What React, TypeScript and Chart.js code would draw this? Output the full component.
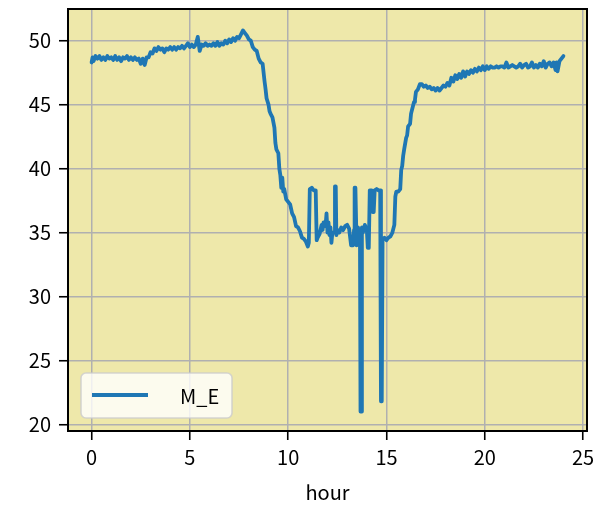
import React, { useEffect, useRef } from 'react';
import { Chart, registerables } from 'chart.js';

Chart.register(...registerables);

const seriesLabel = 'M_E';
const xTitle = 'hour';
const xTicks = [0, 5, 10, 15, 20, 25];
const yTicks = [20, 25, 30, 35, 40, 45, 50];

const hours = [
  0.0, 0.05, 0.1, 0.2, 0.3, 0.4, 0.5, 0.6, 0.7, 0.8, 0.9, 1.0, 1.1, 1.2, 1.3, 1.4, 1.5, 1.6, 1.7, 1.8, 1.9,
  2.0, 2.1, 2.2, 2.3, 2.4, 2.5, 2.6, 2.7, 2.8, 2.9, 3.0, 3.1, 3.2, 3.3, 3.4, 3.5, 3.6, 3.7, 3.8, 3.9,
  4.0, 4.1, 4.2, 4.3, 4.4, 4.5, 4.6, 4.7, 4.8, 4.9, 5.0, 5.1, 5.2, 5.3, 5.4, 5.5, 5.6, 5.7, 5.8, 5.9,
  6.0, 6.1, 6.2, 6.3, 6.4, 6.5, 6.6, 6.7, 6.8, 6.9, 7.0, 7.1, 7.2, 7.3, 7.4, 7.5, 7.6, 7.7, 7.8, 7.9,
  8.0, 8.1, 8.2, 8.3, 8.4, 8.5, 8.6, 8.7, 8.8, 8.85, 8.9, 9.0, 9.05, 9.1, 9.2, 9.3, 9.35, 9.4, 9.5, 9.55,
  9.6, 9.65, 9.7, 9.75, 9.8, 9.9, 10.0, 10.1, 10.2, 10.3, 10.4, 10.5, 10.6, 10.7, 10.8, 10.9, 11.0, 11.05,
  11.1, 11.2, 11.3, 11.4, 11.45, 11.5, 11.6, 11.7, 11.75, 11.8, 11.9, 11.95, 12.0, 12.05, 12.1, 12.15, 12.2, 12.25,
  12.35, 12.38, 12.42, 12.45, 12.5, 12.6, 12.7, 12.8, 12.9, 13.0, 13.1, 13.2, 13.3, 13.35, 13.38, 13.42, 13.48,
  13.55, 13.6, 13.65, 13.68, 13.72, 13.75, 13.8, 13.9, 14.0, 14.05, 14.1, 14.15, 14.25, 14.3, 14.35, 14.4, 14.5,
  14.6, 14.68, 14.72, 14.76, 14.8, 14.9, 15.0, 15.1, 15.2, 15.3, 15.4, 15.45, 15.5, 15.6, 15.7, 15.75, 15.8,
  15.85, 15.9, 16.0, 16.05, 16.1, 16.2, 16.25, 16.3, 16.4, 16.45, 16.5, 16.6, 16.7, 16.8, 16.9, 17.0, 17.1,
  17.2, 17.3, 17.4, 17.5, 17.6, 17.7, 17.8, 17.9, 18.0, 18.1, 18.2, 18.3, 18.4, 18.5, 18.6, 18.7, 18.8, 18.9,
  19.0, 19.1, 19.2, 19.3, 19.4, 19.5, 19.6, 19.7, 19.8, 19.9, 20.0, 20.1, 20.2, 20.3, 20.4, 20.5, 20.6, 20.7,
  20.8, 20.9, 21.0, 21.1, 21.2, 21.3, 21.4, 21.5, 21.6, 21.7, 21.8, 21.9, 22.0, 22.1, 22.2, 22.3, 22.4, 22.5,
  22.6, 22.7, 22.8, 22.9, 23.0, 23.1, 23.2, 23.3, 23.4, 23.5, 23.6, 23.65, 23.7, 23.8, 23.9, 24.0,
];

const values = [
  48.3, 48.7, 48.4, 48.8, 48.6, 48.8, 48.5, 48.7, 48.5, 48.8, 48.6, 48.7, 48.5, 48.8, 48.5, 48.7, 48.4, 48.7, 48.6, 48.8, 48.5,
  48.7, 48.5, 48.7, 48.5, 48.6, 48.2, 48.6, 48.1, 48.7, 48.7, 49.1, 49.0, 49.4, 49.2, 49.5, 49.3, 49.4, 49.1, 49.4, 49.3,
  49.5, 49.3, 49.5, 49.3, 49.5, 49.4, 49.6, 49.4, 49.6, 49.8, 49.5, 49.7, 49.5, 49.7, 50.3, 49.2, 49.7, 49.6, 49.8, 49.6,
  49.7, 49.6, 49.8, 49.6, 49.9, 49.6, 49.8, 49.7, 50.0, 49.8, 50.1, 49.9, 50.2, 50.0, 50.3, 50.2, 50.5, 50.8, 50.6, 50.4,
  50.1, 50.0, 49.5, 49.3, 49.2, 48.6, 48.3, 48.2, 46.8, 46.2, 45.5, 45.0, 44.5, 44.3, 44.0, 43.2, 42.0, 41.5, 41.2, 40.0,
  39.5, 38.5, 39.3, 38.2, 38.4, 37.6, 37.4, 37.2, 36.5, 36.2, 35.5, 35.4, 35.1, 34.6, 34.5, 34.3, 33.9, 34.2,
  38.4, 38.5, 38.3, 38.3, 34.4, 34.6, 34.9, 35.6, 35.2, 35.8, 35.5, 36.5, 35.0, 35.8, 34.8, 35.4, 34.2, 35.0,
  35.0, 38.6, 38.6, 34.8, 35.2, 35.0, 35.4, 35.2, 35.5, 35.6, 35.3, 34.0, 34.0, 35.2, 38.5, 38.5, 34.0,
  35.4, 35.0, 35.2, 21.0, 21.0, 35.4, 35.0, 35.6, 35.2, 33.8, 33.8, 38.3, 38.3, 36.6, 36.6, 38.3, 38.4,
  38.3, 38.3, 21.8, 21.8, 34.4, 34.6, 34.4, 34.6, 34.7, 35.0, 35.6, 37.8, 38.2, 38.2, 38.4, 39.9, 40.2,
  41.0, 41.5, 42.4, 42.6, 43.3, 43.5, 44.3, 44.6, 45.2, 45.4, 46.0, 46.2, 46.6, 46.6, 46.4, 46.5, 46.3,
  46.4, 46.2, 46.3, 46.1, 46.3, 46.1, 46.3, 46.5, 46.4, 46.7, 46.5, 47.1, 46.8, 47.3, 47.0, 47.4, 47.1, 47.6,
  47.2, 47.6, 47.4, 47.7, 47.5, 47.8, 47.6, 47.9, 47.7, 48.0, 47.7, 48.0, 47.8, 48.0, 47.9, 47.9, 48.0, 47.9,
  48.0, 48.0, 47.9, 48.3, 47.9, 48.0, 48.1, 48.0, 47.9, 48.0, 48.2, 47.9, 48.1, 48.2, 47.9, 48.0, 48.3, 47.9,
  48.1, 47.9, 48.2, 48.0, 48.4, 47.9, 48.2, 48.3, 48.0, 48.3, 47.7, 48.3, 47.6, 48.4, 48.6, 48.8,
];

const FONT = '"Noto Sans CJK JP", "Noto Sans", "DejaVu Sans", sans-serif';

const decorPlugin = {
  id: 'decor',
  beforeDraw(chart: any) {
    const { ctx, chartArea: a } = chart;
    ctx.save();
    ctx.fillStyle = '#EEE8AA';
    ctx.fillRect(a.left, a.top, a.right - a.left, a.bottom - a.top);
    ctx.restore();
  },
  afterDraw(chart: any) {
    const { ctx, chartArea: a } = chart;
    ctx.save();
    ctx.strokeStyle = '#000';
    ctx.lineWidth = 2;
    ctx.strokeRect(a.left, a.top, a.right - a.left, a.bottom - a.top);
    const lx = a.left + 13;
    const ly = a.bottom - 58;
    const lw = 151;
    const lh = 45;
    ctx.beginPath();
    ctx.roundRect(lx, ly, lw, lh, 5);
    ctx.fillStyle = 'rgba(255,255,255,0.8)';
    ctx.fill();
    ctx.strokeStyle = 'rgba(204,204,204,0.8)';
    ctx.lineWidth = 1.6;
    ctx.stroke();
    ctx.beginPath();
    ctx.moveTo(lx + 11, ly + 22);
    ctx.lineTo(lx + 67, ly + 22);
    ctx.strokeStyle = '#1f77b4';
    ctx.lineWidth = 3.8;
    ctx.stroke();
    ctx.fillStyle = '#000';
    ctx.font = `20px ${FONT}`;
    ctx.textBaseline = 'middle';
    ctx.textAlign = 'left';
    ctx.fillText(seriesLabel, lx + 99, ly + 23);
    ctx.textAlign = 'center';
    ctx.fillText(xTitle, (a.left + a.right) / 2, 492);
    ctx.restore();
  },
};

export default function App() {
  const ref = useRef<HTMLCanvasElement | null>(null);
  useEffect(() => {
    document.body.style.margin = '0';
    const canvas = ref.current;
    if (!canvas) return;
    const chart = new Chart(canvas, {
      type: 'line',
      data: {
        datasets: [
          {
            label: seriesLabel,
            data: hours.map((h, i) => ({ x: h, y: values[i] })),
            borderColor: '#1f77b4',
            borderWidth: 3.8,
            pointRadius: 0,
            tension: 0,
            fill: false,
            borderJoinStyle: 'round',
            borderCapStyle: 'round',
          },
        ],
      },
      options: {
        animation: false,
        responsive: false,
        maintainAspectRatio: false,
        layout: { padding: { left: 0, right: 16, top: 9, bottom: 0 } },
        plugins: { legend: { display: false }, tooltip: { enabled: false } },
        scales: {
          x: {
            type: 'linear',
            min: -1.2,
            max: 25.2,
            afterBuildTicks: (s: any) => {
              s.ticks = xTicks.map((v) => ({ value: v }));
            },
            afterFit: (s: any) => {
              s.height = 86;
              s.paddingLeft = 0;
              s.paddingRight = 0;
            },
            grid: {
              color: '#b0b0b0',
              lineWidth: 1.5,
              tickColor: '#000',
              tickLength: 9,
              tickWidth: 1.6,
            },
            border: { display: false },
            ticks: {
              color: '#000',
              font: { family: FONT, size: 20 },
              padding: 5,
              maxRotation: 0,
              callback: (v: any) => String(v),
            },
          },
          y: {
            type: 'linear',
            min: 19.48,
            max: 52.48,
            afterBuildTicks: (s: any) => {
              s.ticks = yTicks.map((v) => ({ value: v }));
            },
            afterFit: (s: any) => {
              s.width = 68;
              s.paddingTop = 0;
              s.paddingBottom = 0;
            },
            grid: {
              color: '#b0b0b0',
              lineWidth: 1.5,
              tickColor: '#000',
              tickLength: 9,
              tickWidth: 1.6,
            },
            border: { display: false },
            ticks: {
              color: '#000',
              font: { family: FONT, size: 20 },
              padding: 8,
              callback: (v: any) => String(v),
            },
          },
        },
      },
      plugins: [decorPlugin],
    });
    return () => chart.destroy();
  }, []);
  return (
    <div style={{ width: 603, height: 517 }}>
      <canvas ref={ref} width={603} height={517} style={{ display: 'block' }} />
    </div>
  );
}
